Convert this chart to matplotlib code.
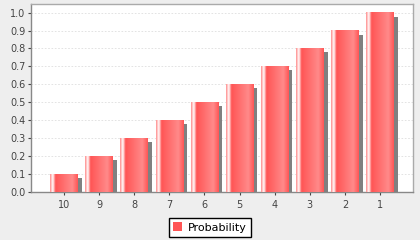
import numpy as np
import matplotlib.pyplot as plt
from matplotlib.patches import Rectangle, Patch
from matplotlib.colors import LinearSegmentedColormap

# 数据
categories = ["10", "9", "8", "7", "6", "5", "4", "3", "2", "1"]
probability = [0.1, 0.2, 0.3, 0.4, 0.5, 0.6, 0.7, 0.8, 0.9, 1.0]
y_ticks = [0.0, 0.1, 0.2, 0.3, 0.4, 0.5, 0.6, 0.7, 0.8, 0.9, 1.0]

base = "#ff5555"
bright = "#ff8a8a"
grad = LinearSegmentedColormap.from_list(
    "bar", [(0.0, bright), (0.1, "#ffffff"), (0.2, base), (0.8, bright), (1.0, base)])

fig = plt.figure(figsize=(4.2, 2.4), dpi=100, facecolor="#eeeeee")
ax = fig.add_axes([31 / 420, 48 / 240, 382 / 420, 188 / 240])
ax.set_facecolor("white")

x = np.arange(len(categories))
width = 0.783
ymax = 1.048
sx = 4 / 35.1           # 阴影偏移 (约 4 像素)
sy = 4 / 188 * ymax

gradient = np.linspace(0, 1, 256).reshape(1, -1)
for xi, v in zip(x, probability):
    left = xi - width / 2
    # 阴影
    ax.add_patch(Rectangle((left + sx, 0), width, v - sy, facecolor="#808080",
                           edgecolor="none", zorder=2))
    # 渐变柱
    ax.imshow(gradient, cmap=grad, aspect="auto", extent=(left, left + width, 0, v),
              zorder=3, interpolation="bilinear")

ax.set_xlim(-0.936, len(categories) - 1 + 0.936)
ax.set_ylim(0, ymax)

ax.set_xticks(x)
ax.set_xticklabels(categories)
ax.set_yticks(y_ticks)
ax.set_yticklabels([f"{t:.1f}" for t in y_ticks])
ax.tick_params(labelsize=7, colors="#444444", length=2, width=0.8, pad=2)
ax.tick_params(axis="x", pad=4)

ax.yaxis.grid(True, linestyle=(0, (2, 2)), color="#dedede", linewidth=0.6)
ax.set_axisbelow(True)
for s in ax.spines.values():
    s.set_color("#aaaaaa")
    s.set_linewidth(1)
ax.spines["left"].set_color("#888888")
ax.spines["bottom"].set_color("#888888")

fig.legend(handles=[Patch(facecolor=base, edgecolor="none", label="Probability")],
           loc="center", bbox_to_anchor=(210 / 420, 12.5 / 240), fontsize=8,
           frameon=True, fancybox=False, edgecolor="black", handlelength=0.8,
           handleheight=0.8, handletextpad=0.5, borderpad=0.4, framealpha=1)

fig.savefig("out.png", dpi=100, facecolor=fig.get_facecolor())
